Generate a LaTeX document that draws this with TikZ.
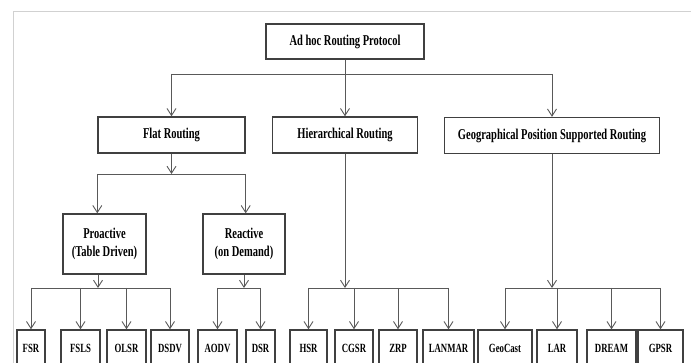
\documentclass[tikz,border=0pt]{standalone}
\usepackage{fontspec}
\setmainfont{Liberation Serif}[FakeStretch=0.7]
\usetikzlibrary{arrows.meta}

\tikzset{
  box/.style={draw=black!75, line width=1.4pt, fill=white, inner sep=0pt,
    align=center, font=\fontsize{15}{18}\selectfont\bfseries},
  leaf/.style={box, minimum height=36pt, font=\fontsize{12.5}{14}\selectfont\bfseries},
  wire/.style={draw=black!65, line width=0.9pt},
  arr/.style={wire, -{Straight Barb[length=7pt,width=9pt]}},
  frame/.style={draw=black!18, line width=0.8pt}
}

\begin{document}
\begin{tikzpicture}[x=1pt,y=-1pt]
  \useasboundingbox (0,0) rectangle (691,363);
  \clip (0,0) rectangle (691,363);
  \draw[frame] (13,363) -- (13,11) -- (691,11);

  % top levels
  \node[box, minimum width=158pt, minimum height=35pt] (root) at (345,41.5) {Ad hoc Routing Protocol};
  \node[box, minimum width=147pt, minimum height=36pt] (flat) at (171.5,135) {Flat Routing};
  \node[box, minimum width=145pt, minimum height=36pt] (hier) at (345,135) {Hierarchical Routing};
  \node[box, minimum width=215pt, minimum height=36pt] (geo) at (552,135.5) {Geographical Position Supported Routing};

  \node[box, minimum width=83pt, minimum height=60pt] (pro) at (104.5,244) {Proactive\\(Table Driven)};
  \node[box, minimum width=82pt, minimum height=60pt] (rea) at (244,244) {Reactive\\(on Demand)};

  % leaves
  \node[leaf, minimum width=28pt] (fsr) at (31,348) {FSR};
  \node[leaf, minimum width=39pt] (fsls) at (80.5,348) {FSLS};
  \node[leaf, minimum width=39pt] (olsr) at (126.5,348) {OLSR};
  \node[leaf, minimum width=38pt] (dsdv) at (170,348) {DSDV};
  \node[leaf, minimum width=39pt] (aodv) at (217.5,348) {AODV};
  \node[leaf, minimum width=29pt] (dsr) at (260.5,348) {DSR};
  \node[leaf, minimum width=37pt] (hsr) at (308.5,348) {HSR};
  \node[leaf, minimum width=38pt] (cgsr) at (354,348) {CGSR};
  \node[leaf, minimum width=38pt] (zrp) at (398,348) {ZRP};
  \node[leaf, minimum width=51pt] (lanmar) at (448.5,348) {LANMAR};
  \node[leaf, minimum width=54pt] (geocast) at (505,348) {GeoCast};
  \node[leaf, minimum width=40pt] (lar) at (557,348) {LAR};
  \node[leaf, minimum width=49pt] (dream) at (611.5,348) {DREAM};
  \node[leaf, minimum width=45pt] (gpsr) at (660.5,348) {GPSR};

  % bus points
  \coordinate (rootbus) at (345,74);
  \coordinate (flatbus) at (171.5,174);
  \coordinate (probus) at (98,288);
  \coordinate (reabus) at (244,288);
  \coordinate (hierbus) at (345,288);
  \coordinate (geobus) at (552,288);

  % root
  \draw[wire] (root) -- (rootbus);
  \draw[wire] (flat.north |- rootbus) -- (geo.north |- rootbus);
  \foreach \n in {flat,hier,geo}
    \draw[arr] (\n.north |- rootbus) -- (\n.north);

  % flat routing
  \draw[arr] (flat) -- (flatbus);
  \draw[wire] (flatbus -| flat.west) -- (flatbus -| flat.east);
  \draw[arr] (flatbus -| flat.west) -- (pro.north -| flat.west);
  \draw[arr] (flatbus -| flat.east) -- (rea.north -| flat.east);

  % proactive
  \draw[arr] (pro.south -| probus) -- (probus);
  \draw[wire] (fsr.north |- probus) -- (dsdv.north |- probus);
  \foreach \n in {fsr,fsls,olsr,dsdv}
    \draw[arr] (\n.north |- probus) -- (\n.north);

  % reactive
  \draw[arr] (rea) -- (reabus);
  \draw[wire] (aodv.north |- reabus) -- (dsr.north |- reabus);
  \foreach \n in {aodv,dsr}
    \draw[arr] (\n.north |- reabus) -- (\n.north);

  % hierarchical
  \draw[arr] (hier) -- (hierbus);
  \draw[wire] (hsr.north |- hierbus) -- (lanmar.north |- hierbus);
  \foreach \n in {hsr,cgsr,zrp,lanmar}
    \draw[arr] (\n.north |- hierbus) -- (\n.north);

  % geographical
  \draw[arr] (geo) -- (geobus);
  \draw[wire] (geocast.north |- geobus) -- (gpsr.north |- geobus);
  \foreach \n in {geocast,lar,dream,gpsr}
    \draw[arr] (\n.north |- geobus) -- (\n.north);
\end{tikzpicture}
\end{document}
